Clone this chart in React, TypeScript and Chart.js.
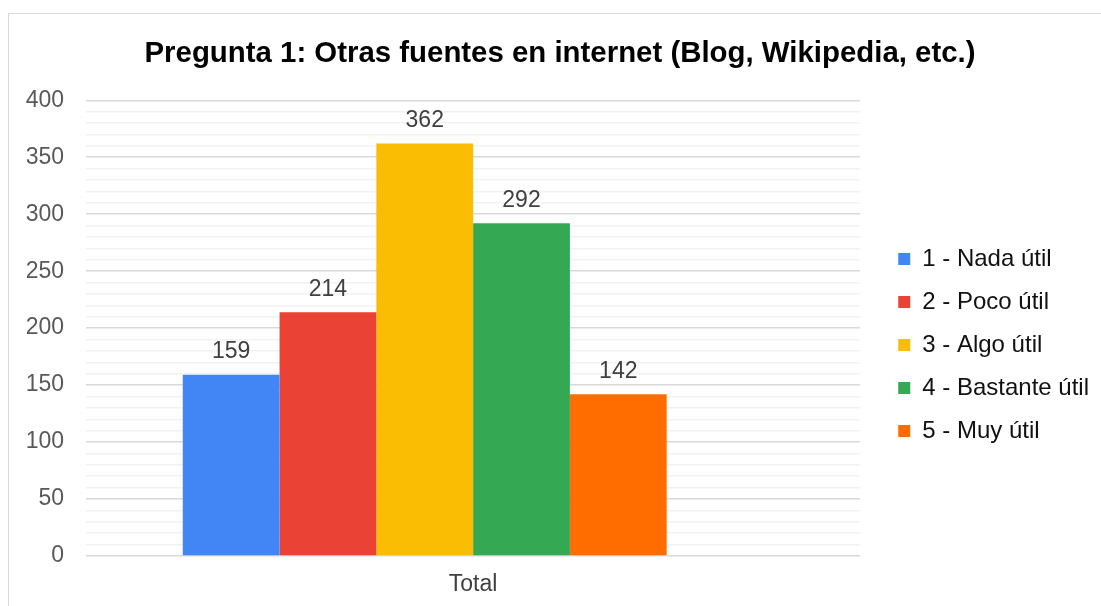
import React, { useEffect, useRef } from "react";
import { Chart, registerables } from "chart.js";

Chart.register(...registerables);

const categories = ["Total"];
const seriesNames = ["1 - Nada útil", "2 - Poco útil", "3 - Algo útil", "4 - Bastante útil", "5 - Muy útil"];
const seriesValues = [159, 214, 362, 292, 142];
const seriesColors = ["#4285F4", "#EA4335", "#FBBC04", "#34A853", "#FF6D01"];
const titleText = "Pregunta 1: Otras fuentes en internet (Blog, Wikipedia, etc.)";
const yMin = 0;
const yMax = 400;
const yMajorStep = 50;
const yMinorStep = 10;

const FONT = "'Liberation Sans', Arial, sans-serif";
const LEGEND_SHIFT_X = 19;
const LEGEND_SHIFT_Y = 47;
const TITLE_SHIFT_X = 18;

const valueLabels = {
  id: "valueLabels",
  afterDatasetsDraw(chart: any) {
    const ctx = chart.ctx;
    ctx.save();
    ctx.font = `23px ${FONT}`;
    ctx.fillStyle = "#404040";
    ctx.textAlign = "center";
    ctx.textBaseline = "middle";
    chart.data.datasets.forEach((ds: any, i: number) => {
      const meta = chart.getDatasetMeta(i);
      meta.data.forEach((bar: any, j: number) => {
        const v = ds.data[j];
        if (v == null) return;
        ctx.fillText(String(v), bar.x, bar.y - 23);
      });
    });
    ctx.restore();
  },
};

const boxOffsets = {
  id: "boxOffsets",
  afterLayout(chart: any) {
    const lg = chart.legend;
    if (lg) {
      lg.left += LEGEND_SHIFT_X;
      lg.right += LEGEND_SHIFT_X;
      lg.top += LEGEND_SHIFT_Y;
      lg.bottom += LEGEND_SHIFT_Y;
    }
    const tt = chart.titleBlock;
    if (tt) {
      tt.left += TITLE_SHIFT_X;
      tt.right += TITLE_SHIFT_X;
    }
  },
};

export default function App() {
  const ref = useRef<HTMLCanvasElement | null>(null);
  useEffect(() => {
    if (!ref.current) return;
    const datasets: any[] = seriesNames.map((name, i) => ({
      label: name,
      data: [seriesValues[i]],
      backgroundColor: seriesColors[i],
      borderWidth: 0,
    }));
    // empty trailing series slot (present in the original layout, no data)
    datasets.push({ label: "", data: [null], backgroundColor: "rgba(0,0,0,0)", borderWidth: 0 });
    const chart = new Chart(ref.current, {
      type: "bar",
      data: { labels: categories, datasets },
      plugins: [valueLabels, boxOffsets],
      options: {
        responsive: false,
        animation: false,
        layout: { padding: { left: 4, right: 21, top: 0, bottom: 10 } },
        datasets: { bar: { categoryPercentage: 0.75, barPercentage: 1 } },
        plugins: {
          title: {
            display: true,
            text: titleText,
            color: "#000000",
            font: { family: FONT, size: 29.4, weight: "bold" },
            padding: { top: 36, bottom: 29 },
          },
          legend: {
            position: "right",
            labels: {
              color: "#111111",
              font: { family: FONT, size: 24 },
              boxWidth: 12,
              boxHeight: 12,
              padding: 19,
              filter: (item: any) => item.text !== "",
            },
          },
          tooltip: { enabled: false },
        },
        scales: {
          x: {
            grid: { display: false, drawTicks: true, tickLength: 17 },
            border: { display: false },
            ticks: { color: "#404040", font: { family: FONT, size: 23, lineHeight: 1 }, padding: 0 },
          },
          y: {
            min: yMin,
            max: yMax,
            border: { display: false },
            afterFit: (s: any) => {
              s.width = 82;
            },
            grid: {
              drawTicks: false,
              color: (c: any) => (c.tick && c.tick.value % yMajorStep === 0 ? "#d9d9d9" : "#f2f2f2"),
              lineWidth: 1.5,
            },
            ticks: {
              stepSize: yMinorStep,
              autoSkip: false,
              color: "#595959",
              font: { family: FONT, size: 23 },
              padding: 22,
              callback: (v: any) => (Number(v) % yMajorStep === 0 ? String(v) : ""),
            },
          },
        },
      },
    });
    return () => chart.destroy();
  }, []);
  return (
    <div style={{ position: "fixed", left: 0, top: 0, width: 1101, height: 606, overflow: "hidden", background: "#fff" }}>
      <div
        style={{
          position: "absolute",
          left: 8,
          top: 13,
          width: 1200,
          height: 700,
          border: "1px solid #d9d9d9",
          borderRightWidth: 0,
          borderBottomWidth: 0,
        }}
      />
      <canvas ref={ref} width={1101} height={606} style={{ position: "absolute", left: 0, top: 0 }} />
    </div>
  );
}
